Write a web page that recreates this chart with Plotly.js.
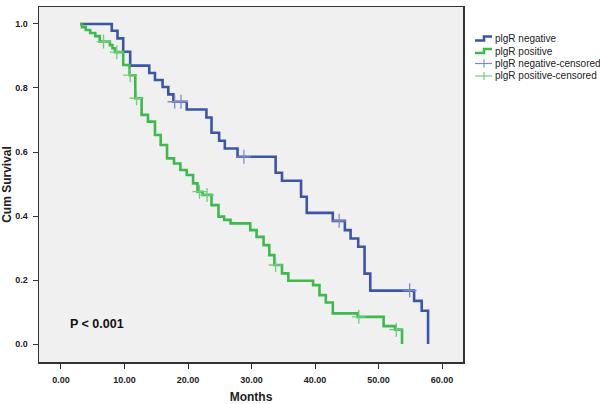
<!DOCTYPE html>
<html>
<head>
<meta charset="utf-8">
<script src="https://cdn.plot.ly/plotly-3.0.1.min.js"></script>
<style>html,body{margin:0;padding:0;background:#fff;}#chart{width:600px;height:404px;}</style>
</head>
<body>
<div id="chart"></div>
<script>
// pIgR negative (blue) Kaplan-Meier steps
var negTime = [3.0, 8.0, 8.9, 9.8, 10.9, 13.9, 14.8, 16.0, 16.9, 17.7, 19.8, 22.9, 23.7, 24.9, 25.8, 27.8, 33.8, 34.8, 37.8, 38.7, 42.8, 44.7, 45.6, 46.8, 47.8, 48.7, 55.6, 56.8, 57.8];
var negSurv = [1.0, 0.979, 0.955, 0.913, 0.870, 0.847, 0.825, 0.803, 0.780, 0.757, 0.733, 0.708, 0.660, 0.635, 0.611, 0.585, 0.535, 0.510, 0.460, 0.410, 0.385, 0.356, 0.330, 0.304, 0.220, 0.167, 0.135, 0.104, 0.0];
var negCensTime = [17.9, 18.9, 28.8, 43.8, 54.9];
var negCensSurv = [0.757, 0.757, 0.585, 0.385, 0.167];

// pIgR positive (green) Kaplan-Meier steps
var posTime = [3.0, 3.3, 3.9, 4.6, 5.4, 6.1, 7.7, 8.1, 8.5, 9.8, 10.8, 11.7, 12.7, 13.7, 14.8, 15.7, 16.7, 17.8, 18.8, 19.8, 20.8, 21.5, 22.3, 23.7, 24.8, 25.7, 26.7, 29.8, 30.8, 31.9, 32.8, 33.6, 34.8, 35.8, 39.7, 40.7, 41.7, 42.8, 46.7, 50.8, 52.6, 53.7];
var posSurv = [1.0, 0.990, 0.981, 0.972, 0.962, 0.945, 0.934, 0.924, 0.912, 0.872, 0.840, 0.768, 0.716, 0.695, 0.653, 0.622, 0.580, 0.564, 0.544, 0.528, 0.502, 0.476, 0.466, 0.434, 0.398, 0.388, 0.377, 0.356, 0.335, 0.309, 0.278, 0.247, 0.221, 0.198, 0.184, 0.153, 0.130, 0.096, 0.085, 0.056, 0.045, 0.0];
var posCensTime = [6.7, 8.8, 10.9, 11.9, 21.8, 23.0, 33.8, 46.9, 52.8];
var posCensSurv = [0.945, 0.912, 0.840, 0.768, 0.476, 0.466, 0.247, 0.085, 0.045];

var xTicks = [0, 10, 20, 30, 40, 50, 60];
var yTicks = [0.0, 0.2, 0.4, 0.6, 0.8, 1.0];
var legendNames = ['plgR negative', 'plgR positive', 'plgR negative-censored', 'plgR positive-censored'];

var BLUE = '#3B55A8', GREEN = '#3DBA4B';
var BLUE_C = '#7C8CC8', GREEN_C = '#72CC7E';
var FONT = 'Arial, "Liberation Sans", sans-serif';

// plot-area geometry (pixels) used to place the hand-built legend
var M = {l: 39, r: 137, t: 7, b: 42};
var W = 600, H = 404;
var PW = W - M.l - M.r, PH = H - M.t - M.b;
function px2x(px) { return (px - M.l) / PW; }
function py2y(py) { return 1 - (py - M.t) / PH; }

var traces = [
  {x: negTime, y: negSurv, type: 'scatter', mode: 'lines', line: {shape: 'hv', color: BLUE, width: 2.6}, name: legendNames[0], showlegend: false},
  {x: posTime, y: posSurv, type: 'scatter', mode: 'lines', line: {shape: 'hv', color: GREEN, width: 2.6}, name: legendNames[1], showlegend: false},
  {x: negCensTime, y: negCensSurv, type: 'scatter', mode: 'markers', marker: {symbol: 'cross-thin-open', size: 10, color: BLUE_C, line: {color: BLUE_C, width: 1.3}}, name: legendNames[2], showlegend: false, hoverinfo: 'skip'},
  {x: posCensTime, y: posCensSurv, type: 'scatter', mode: 'markers', marker: {symbol: 'cross-thin-open', size: 10, color: GREEN_C, line: {color: GREEN_C, width: 1.3}}, name: legendNames[3], showlegend: false, hoverinfo: 'skip'}
];

// legend (built from shapes + annotations so the row spacing matches)
var rowY = [38.5, 51, 63.5, 76];
var symX0 = 475, symX1 = 492, symMid = 484, textX = 493;
var shapes = [];
var annotations = [];
function stepPath(cy) {
  return 'M ' + px2x(symX0) + ' ' + py2y(cy + 2) + ' L ' + px2x(symMid) + ' ' + py2y(cy + 2) +
         ' L ' + px2x(symMid) + ' ' + py2y(cy - 2) + ' L ' + px2x(symX1) + ' ' + py2y(cy - 2);
}
shapes.push({type: 'path', xref: 'paper', yref: 'paper', path: stepPath(rowY[0]), line: {color: BLUE, width: 2.6}});
shapes.push({type: 'path', xref: 'paper', yref: 'paper', path: stepPath(rowY[1]), line: {color: GREEN, width: 2.6}});
[[rowY[2], BLUE_C], [rowY[3], GREEN_C]].forEach(function (r) {
  shapes.push({type: 'line', xref: 'paper', yref: 'paper', x0: px2x(symX0), x1: px2x(symX1), y0: py2y(r[0]), y1: py2y(r[0]), line: {color: r[1], width: 1.2}});
  shapes.push({type: 'line', xref: 'paper', yref: 'paper', x0: px2x(symMid), x1: px2x(symMid), y0: py2y(r[0] - 4), y1: py2y(r[0] + 4), line: {color: r[1], width: 1.2}});
});
legendNames.forEach(function (n, i) {
  annotations.push({xref: 'paper', yref: 'paper', x: px2x(textX), y: py2y(rowY[i]), xanchor: 'left', yanchor: 'middle', showarrow: false, text: n, font: {family: FONT, size: 10, color: '#222'}});
});
annotations.push({x: 1.1, y: 0.0625, xref: 'x', yref: 'y', xanchor: 'left', yanchor: 'middle', showarrow: false, text: 'P < 0.001', font: {family: FONT, size: 12.5, weight: 'bold', color: '#111'}});

var layout = {
  width: W, height: H,
  margin: {l: M.l, r: M.r, t: M.t, b: M.b, autoexpand: false},
  paper_bgcolor: '#ffffff',
  plot_bgcolor: '#f0f0f0',
  font: {family: FONT, color: '#222'},
  showlegend: false,
  xaxis: {
    range: [-3.46, 63.3], tickvals: xTicks, tickformat: '.2f',
    showgrid: false, zeroline: false, showline: true, mirror: true, linecolor: '#333', linewidth: 1.5,
    ticks: 'outside', ticklen: 5, tickcolor: '#333', ticklabelstandoff: 4,
    tickfont: {family: FONT, size: 9, weight: 'bold', color: '#222'},
    title: {text: 'Months', font: {family: FONT, size: 12, weight: 'bold', color: '#222'}, standoff: 8}
  },
  yaxis: {
    range: [-0.056, 1.053], tickvals: yTicks, tickformat: '.1f',
    showgrid: false, zeroline: false, showline: true, mirror: true, linecolor: '#333', linewidth: 1.5,
    ticks: 'outside', ticklen: 5, tickcolor: '#333', ticklabelstandoff: 3,
    tickfont: {family: FONT, size: 9, weight: 'bold', color: '#222'},
    title: {text: 'Cum Survival', font: {family: FONT, size: 12, weight: 'bold', color: '#222'}, standoff: 4}
  },
  shapes: shapes,
  annotations: annotations
};

Plotly.newPlot('chart', traces, layout, {displayModeBar: false, staticPlot: true});
</script>
</body>
</html>
